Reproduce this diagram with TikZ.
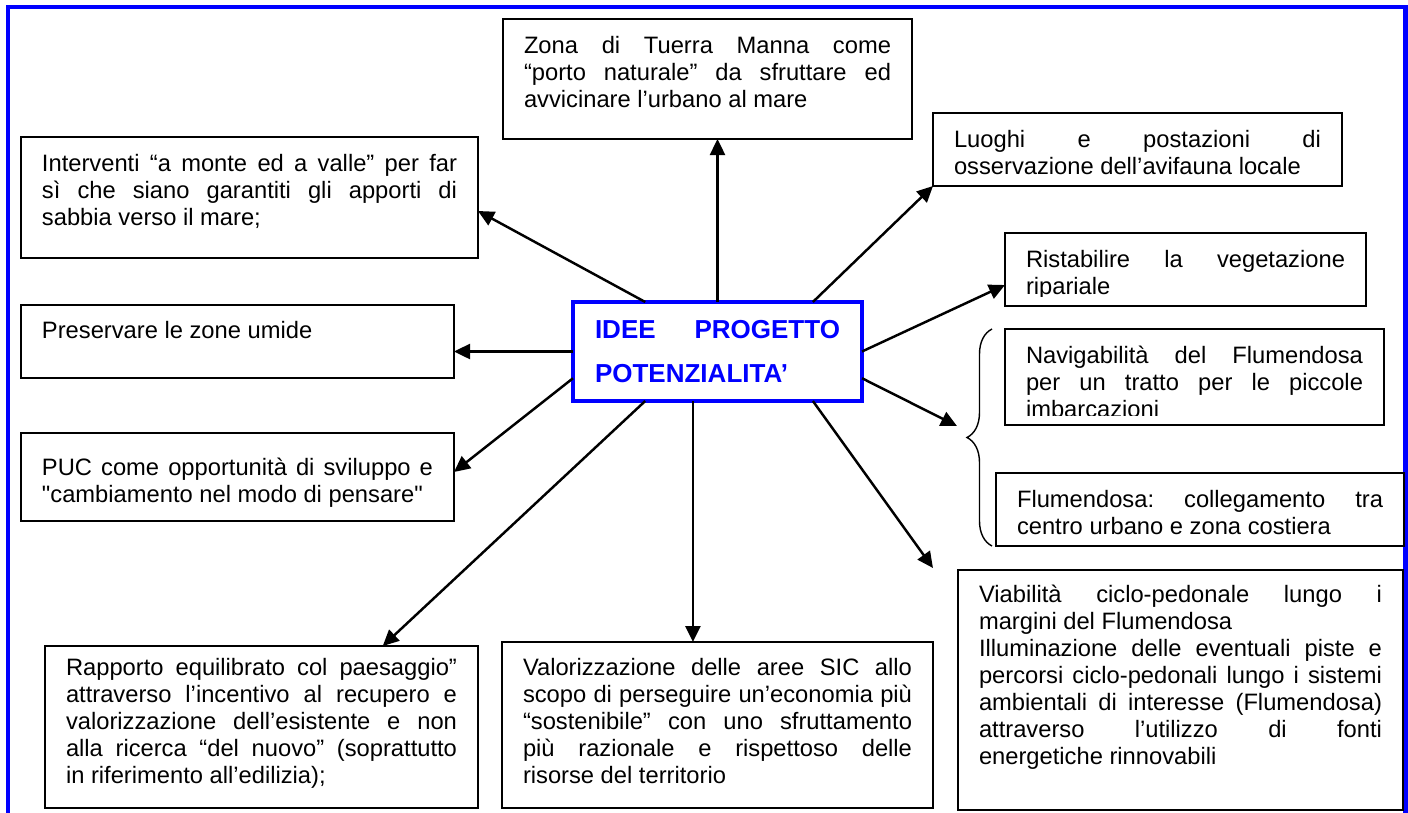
\documentclass[tikz,border=0pt]{standalone}
\usepackage{fontspec}
\setmainfont{Liberation Sans}[Ligatures=TeXOff]
\usepackage{xcolor}
\usepackage{tikz}
\usetikzlibrary{arrows.meta, calc, decorations.pathreplacing}

\hyphenpenalty=10000
\exhyphenpenalty=10000
\tolerance=10000
\hbadness=10000
\frenchspacing

\begin{document}
\begin{tikzpicture}[
    >={Triangle[length=0.32cm, width=0.3cm]},
    box/.style 2 args={draw, line width=1.1pt, outer sep=0pt, anchor=north west, inner xsep=0.42cm, inner ysep=0pt, text width=#1, text height=0.68cm, text depth=#2, align=justify, font=\fontsize{13.5}{15.4}\selectfont},
    idea/.style={draw=blue, line width=2.3pt, outer sep=0pt, anchor=north west, inner xsep=0.44cm, inner ysep=0pt, text width=4.9cm, text height=0.72cm, text depth=1.26cm, align=justify, text=blue, font=\bfseries\fontsize{14.8}{25.6}\selectfont},
    arr/.style={->, line width=1.4pt},
    frame/.style={draw=blue, line width=2.4pt},
    brace/.style={decorate, decoration={brace, amplitude=0.5cm}, line width=0.8pt},
]
\useasboundingbox (0,0) rectangle (28.16,-16.24);

% ── Frame ──
\draw[frame] (0.16,-16.3) -- (0.16,-0.14) -- (28.11,-0.14) -- (28.11,-16.3);

% ── Centre ──
\node[idea] (idee) at (11.46,-6.04) {IDEE PROGETTO\linebreak POTENZIALITA’};

% ── Top row ──
\node[box={7.34cm}{1.72cm}] (zona) at (10.06,-0.38) {Zona di Tuerra Manna come\linebreak “porto naturale” da sfruttare ed\linebreak avvicinare l’urbano al mare};
\node[box={8.30cm}{1.74cm}] (interv) at (0.42,-2.74) {Interventi “a monte ed a valle” per far\linebreak sì che siano garantiti gli apporti di\linebreak sabbia verso il mare;};
\node[box={7.34cm}{0.78cm}] (luoghi) at (18.66,-2.26) {Luoghi e postazioni di\linebreak osservazione dell’avifauna locale};

% ── Right column ──
\begin{scope}
  \clip (20.0,-4.5) rectangle (27.5,-5.92);
  \node[box={6.38cm}{0.78cm}] (rist) at (20.10,-4.66) {Ristabilire la vegetazione\linebreak ripariale};
\end{scope}
\draw[line width=1.1pt] (rist.north west) rectangle (rist.south east);

\begin{scope}
  \clip (20.0,-6.4) rectangle (27.8,-8.30);
  \node[box={6.74cm}{1.24cm}] (navig) at (20.10,-6.58) {Navigabilità del Flumendosa\linebreak per un tratto per le piccole\linebreak imbarcazioni};
\end{scope}
\draw[line width=1.1pt] (navig.north west) rectangle (navig.south east);

\node[box={7.32cm}{0.78cm}] (flum) at (19.92,-9.46) {Flumendosa: collegamento tra\linebreak centro urbano e zona costiera};

% brace on the Flumendosa pair
\coordinate (bracetop) at ([xshift=-0.26cm]navig.north west);
\coordinate (bracetip) at (19.14,-8.52);
\draw[brace] (bracetop |- flum.south) -- (bracetop);

\node[box={8.06cm}{4.16cm}, text height=0.64cm] (viab) at (19.16,-11.40) {Viabilità ciclo-pedonale lungo i\linebreak margini del Flumendosa\par Illuminazione delle eventuali piste e\linebreak percorsi ciclo-pedonali lungo i sistemi\linebreak ambientali di interesse (Flumendosa)\linebreak attraverso l’utilizzo di fonti\linebreak energetiche rinnovabili};

% ── Left column ──
\node[box={7.82cm}{0.80cm}, text height=0.66cm] (pres) at (0.42,-6.10) {Preservare le zone umide};
\node[box={7.82cm}{0.92cm}, text height=0.84cm] (puc) at (0.42,-8.66) {PUC come opportunità di sviluppo e\linebreak "cambiamento nel modo di pensare"};

% ── Bottom row ──
\node[box={7.82cm}{2.66cm}, text height=0.58cm] (rapp) at (0.90,-12.92) {Rapporto equilibrato col paesaggio”\linebreak attraverso l’incentivo al recupero e\linebreak valorizzazione dell’esistente e non\linebreak alla ricerca “del nuovo” (soprattutto\linebreak in riferimento all’edilizia);};
\node[box={7.78cm}{2.66cm}, text height=0.66cm] (valo) at (10.04,-12.84) {Valorizzazione delle aree SIC allo\linebreak scopo di perseguire un’economia più\linebreak “sostenibile” con uno sfruttamento\linebreak più razionale e rispettoso delle\linebreak risorse del territorio};

% ── Arrows ──
\coordinate (dn) at ($(idee.south west)!0.415!(idee.south east)$);
\draw[arr] (idee.north) -- (idee.north |- zona.south);
\draw[arr] ($(idee.north west)!0.83!(idee.north east)$) -- (luoghi.south west);
\draw[arr] ($(idee.north west)!0.25!(idee.north east)$) -- ([yshift=-0.27cm]interv.east);
\draw[arr] (idee.east) -- ([yshift=-0.31cm]rist.west);
\draw[arr] ($(idee.north east)!0.77!(idee.south east)$) -- (bracetip);
\draw[arr] ($(idee.south west)!0.83!(idee.south east)$) -- ([xshift=-0.5cm, yshift=0.04cm]viab.north west);
\draw[arr] (dn) -- (dn |- valo.north);
\draw[arr] ($(idee.south west)!0.25!(idee.south east)$) -- ($(rapp.north west)!0.78!(rapp.north east)$);
\draw[arr] (idee.west) -- (idee.west -| pres.east);
\draw[arr] ($(idee.north west)!0.77!(idee.south west)$) -- ([yshift=0.1cm]puc.east);

\end{tikzpicture}
\end{document}
